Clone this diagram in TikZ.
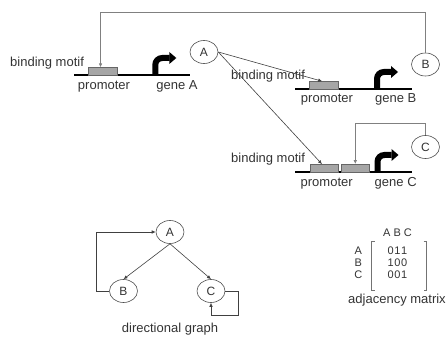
\documentclass[tikz,border=0pt]{standalone}
\usepackage{fontspec}
\setmainfont{Liberation Sans}
\usetikzlibrary{arrows.meta,shapes.geometric}
\begin{document}
\begin{tikzpicture}[x=1pt,y=-1pt,
  lbl/.style={font=\fontsize{13}{15}\selectfont, text=black!80, inner sep=0pt},
  mtx/.style={font=\fontsize{11}{13}\selectfont, text=black!80, inner sep=0pt},
  promobox/.style={draw=black!60, fill=black!35, line width=0.6pt, minimum width=29pt, minimum height=7.5pt, inner sep=0pt},
  gnode/.style={ellipse, draw=black!70, line width=0.6pt, minimum width=28pt, minimum height=23pt, inner sep=0pt, font=\fontsize{12}{14}\selectfont, text=black!80},
  fb/.style={draw=black!50, line width=0.8pt},
  act/.style={draw=black!75, line width=0.6pt},
  tip/.style={-{Latex[length=4pt,width=3.5pt]}},
  gline/.style={line width=1.6pt, black},
  genearrow/.pic={
    \draw[line width=6pt, black] (0,0) -- (0,-10) .. controls (0,-14) and (3,-17) .. (7,-17) -- (14.2,-17);
    \fill[black] (14,-23) -- (21,-17) -- (14,-11) -- cycle;
  },
  bracket/.style={draw=black!55, line width=0.7pt}
]
\useasboundingbox (0,0) rectangle (448,337);

% ---- gene A ----
\draw[gline] (74,75) -- (190,75);
\node[promobox] (pA) at (102.5,71.5) {};
\pic at (155.3,75) {genearrow};
\node[lbl, anchor=base west] (bmA) at (10,66.5) {binding motif};
\node[lbl, anchor=base] (prA) at (104,90) {promoter};
\node[lbl, anchor=base] (gnA) at (177,90) {gene A};

% ---- gene B ----
\draw[gline] (295,89) -- (412,89);
\node[promobox] (pB) at (324.2,85.3) {};
\pic at (377,89) {genearrow};
\node[lbl, anchor=base west] (bmB) at (231,80) {binding motif};
\node[lbl, anchor=base] (prB) at (327,103) {promoter};
\node[lbl, anchor=base] (gnB) at (395.7,103) {gene B};

% ---- gene C ----
\draw[gline] (295,172) -- (412,172);
\node[promobox, minimum width=28pt] (pC1) at (324,168.2) {};
\node[promobox, minimum width=28pt] (pC2) at (355.3,168.2) {};
\pic at (377.5,172) {genearrow};
\node[lbl, anchor=base west] (bmC) at (231,162.3) {binding motif};
\node[lbl, anchor=base] (prC) at (326.7,186.7) {promoter};
\node[lbl, anchor=base] (gnC) at (395.7,186.7) {gene C};

% ---- regulators ----
\node[gnode] (A) at (204,52) {A};
\node[gnode] (B) at (425.5,64.5) {B};
\node[gnode] (C) at (425.5,147) {C};

\coordinate (fbA) at (100.5,12);
\coordinate (fbC) at (355.3,123);
\draw[fb,tip] (B.north) |- (fbA) -- ([xshift=-2pt]pA.north);
\draw[fb,tip] (C.north) |- (fbC) -- (pC2.north);
\draw[act,tip] (A.east) -- ([xshift=-2pt]pB.north);
\draw[act,tip] (A.east) -- ([xshift=-2pt]pC1.north);

% ---- directional graph ----
\node[gnode] (gA) at (170,232) {A};
\node[gnode] (gB) at (123.5,291) {B};
\node[gnode] (gC) at (211,291) {C};
\draw[act,tip] (gA.south) -- (gB.north);
\draw[act,tip] (gA.south) -- (gC.north);
\draw[act,tip] (gB.west) -- ++(-13,0) |- (gA.west);
\draw[act,tip] (gC.east) -- ++(13,0) |- ([yshift=-12.5pt]gC.south) -- (gC.south);
\node[lbl, anchor=base] (dg) at (170,332.3) {directional graph};

% ---- adjacency matrix ----
\node[mtx, anchor=base] (hdr) at (397.5,236.7) {A B C};
\node[mtx, anchor=base] (r1) at (397.5,254.3) {0\kern0.6pt1\kern0.6pt1};
\node[mtx, anchor=base] (r2) at (397.5,266.7) {1\kern0.6pt0\kern0.6pt0};
\node[mtx, anchor=base] (r3) at (397.5,278.3) {0\kern0.6pt0\kern0.6pt1};
\node[mtx, anchor=base] (lA) at (358.3,254.3) {A};
\node[mtx, anchor=base] (lB) at (358.3,266.7) {B};
\node[mtx, anchor=base] (lC) at (358.3,278.3) {C};
\draw[bracket] (374.5,241) -- (371.5,241) -- (371.5,290) -- (374.5,290);
\draw[bracket] (423.5,241) -- (426.5,241) -- (426.5,290) -- (423.5,290);
\node[lbl, anchor=base] (am) at (397,303) {adjacency matrix};
\end{tikzpicture}
\end{document}
